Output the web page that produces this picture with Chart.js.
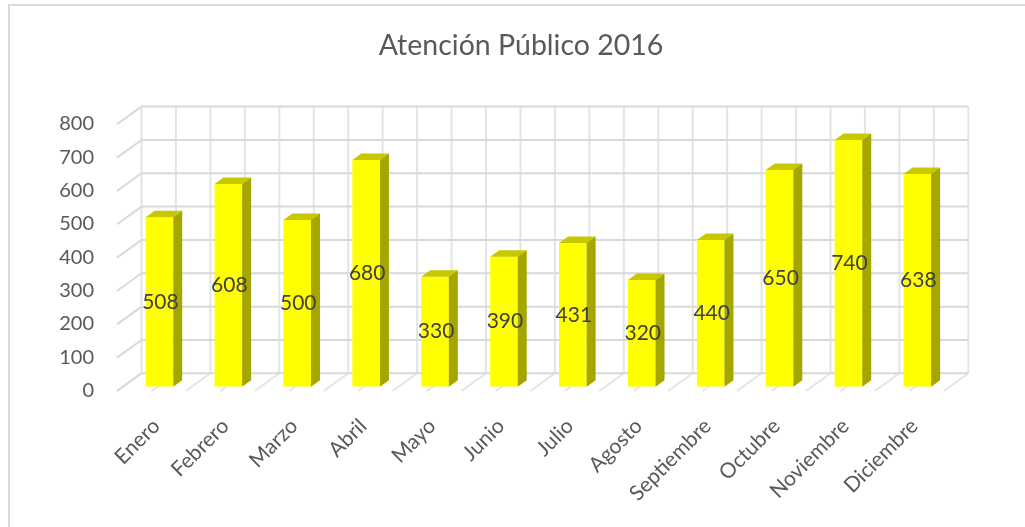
<!DOCTYPE html>
<html>
<head>
<meta charset="utf-8">
<script src="https://cdn.jsdelivr.net/npm/chart.js@4"></script>
<style>
  body { margin: 0; background: #fff; }
  canvas { display: block; }
</style>
</head>
<body>
<canvas id="grafico" width="1025" height="527"></canvas>
<script>
var meses = ["Enero", "Febrero", "Marzo", "Abril", "Mayo", "Junio", "Julio", "Agosto", "Septiembre", "Octubre", "Noviembre", "Diciembre"];
var atenciones = [508, 608, 500, 680, 330, 390, 431, 320, 440, 650, 740, 638];
var ejeMin = 0;
var ejeMax = 800;
var ejePaso = 100;

// desplazamientos del efecto 3D, respecto a la cara frontal de las barras
var FONDO = { dx: 16.5, dy: -13.4 };
var FRENTE = { dx: -8, dy: 4.3 };
var PROF = { dx: 9, dy: -6.5 };

var amarillo = "#ffff00";
var lateral = "#a6a600";
var tapa = "#c8c800";
var gris = "#595959";

function linea(ctx, x1, y1, x2, y2) {
  ctx.beginPath();
  ctx.moveTo(x1, y1);
  ctx.lineTo(x2, y2);
  ctx.stroke();
}

var caja3d = {
  id: 'caja3d',
  beforeDraw: function(chart) {
    var ctx = chart.ctx;
    ctx.save();
    ctx.strokeStyle = "#d9d9d9";
    ctx.lineWidth = 2;
    ctx.beginPath();
    ctx.moveTo(9, 527);
    ctx.lineTo(9, 5);
    ctx.lineTo(1025, 5);
    ctx.stroke();
    ctx.restore();
  },
  beforeDatasetsDraw: function(chart) {
    var ctx = chart.ctx, a = chart.chartArea;
    var sx = chart.scales.x, sy = chart.scales.y;
    ctx.save();
    ctx.lineWidth = 2;
    // lineas verticales de la pared y del piso
    ctx.strokeStyle = "#e4e4e4";
    for (var k = 0; k <= meses.length * 2; k++) {
      var px = sx.getPixelForValue(k / 2 - 0.5);
      linea(ctx, px + FONDO.dx, a.top + FONDO.dy, px + FONDO.dx, a.bottom + FONDO.dy);
      linea(ctx, px + FRENTE.dx, a.bottom + FRENTE.dy, px + FONDO.dx, a.bottom + FONDO.dy);
    }
    // lineas horizontales y diagonales de la pared izquierda
    ctx.strokeStyle = "#d9d9d9";
    sy.ticks.forEach(function(t) {
      var py = sy.getPixelForValue(t.value);
      linea(ctx, a.left + FRENTE.dx, py + FRENTE.dy, a.left + FONDO.dx, py + FONDO.dy);
      linea(ctx, a.left + FONDO.dx, py + FONDO.dy, a.right + FONDO.dx, py + FONDO.dy);
    });
    ctx.restore();
  },
  afterDatasetsDraw: function(chart) {
    var ctx = chart.ctx;
    var meta = chart.getDatasetMeta(0);
    var datos = chart.data.datasets[0].data;
    ctx.save();
    meta.data.forEach(function(bar, i) {
      var p = bar.getProps(['x', 'y', 'base', 'width'], true);
      var l = p.x - p.width / 2, r = p.x + p.width / 2;
      ctx.fillStyle = tapa;
      ctx.beginPath();
      ctx.moveTo(l, p.y);
      ctx.lineTo(l + PROF.dx, p.y + PROF.dy);
      ctx.lineTo(r + PROF.dx, p.y + PROF.dy);
      ctx.lineTo(r, p.y);
      ctx.closePath();
      ctx.fill();
      ctx.fillStyle = lateral;
      ctx.beginPath();
      ctx.moveTo(r, p.y);
      ctx.lineTo(r + PROF.dx, p.y + PROF.dy);
      ctx.lineTo(r + PROF.dx, p.base + PROF.dy);
      ctx.lineTo(r, p.base);
      ctx.closePath();
      ctx.fill();
      ctx.fillStyle = "#404040";
      ctx.font = "21px Lato";
      ctx.textAlign = "center";
      ctx.textBaseline = "middle";
      ctx.fillText(String(datos[i]), p.x + 1, (p.y + p.base) / 2);
    });
    ctx.restore();
  }
};

var grafico = new Chart(document.getElementById('grafico'), {
  type: 'bar',
  data: {
    labels: meses,
    datasets: [{
      data: atenciones,
      backgroundColor: amarillo,
      borderWidth: 0,
      categoryPercentage: 1,
      barPercentage: 0.4
    }]
  },
  plugins: [caja3d],
  options: {
    responsive: false,
    animation: false,
    layout: { padding: { left: 50, right: 33, top: 0, bottom: 0 } },
    plugins: {
      legend: { display: false },
      tooltip: { enabled: false },
      title: {
        display: true,
        text: 'Atención Público 2016',
        color: gris,
        font: { family: 'Lato', size: 28.5, weight: 'normal' },
        padding: { top: 29, bottom: 56.8 }
      }
    },
    scales: {
      x: {
        grid: { display: false, drawTicks: false },
        border: { display: false },
        ticks: {
          color: gris,
          font: { family: 'Lato', size: 21 },
          minRotation: 45,
          maxRotation: 45,
          autoSkip: false,
          padding: 27,
          labelOffset: -3
        },
        afterFit: function(s) { s.height = 140.3; }
      },
      y: {
        min: ejeMin,
        max: ejeMax,
        grid: { display: false, drawTicks: false },
        border: { display: false },
        ticks: {
          stepSize: ejePaso,
          color: gris,
          font: { family: 'Lato', size: 20 },
          padding: 31,
          labelOffset: 4
        },
        afterFit: function(s) { s.width = 75; }
      },
      margen: {
        position: 'right',
        grid: { display: false, drawTicks: false },
        border: { display: false },
        ticks: { display: false },
        afterFit: function(s) { s.width = 40.2; }
      }
    }
  }
});
</script>
</body>
</html>
